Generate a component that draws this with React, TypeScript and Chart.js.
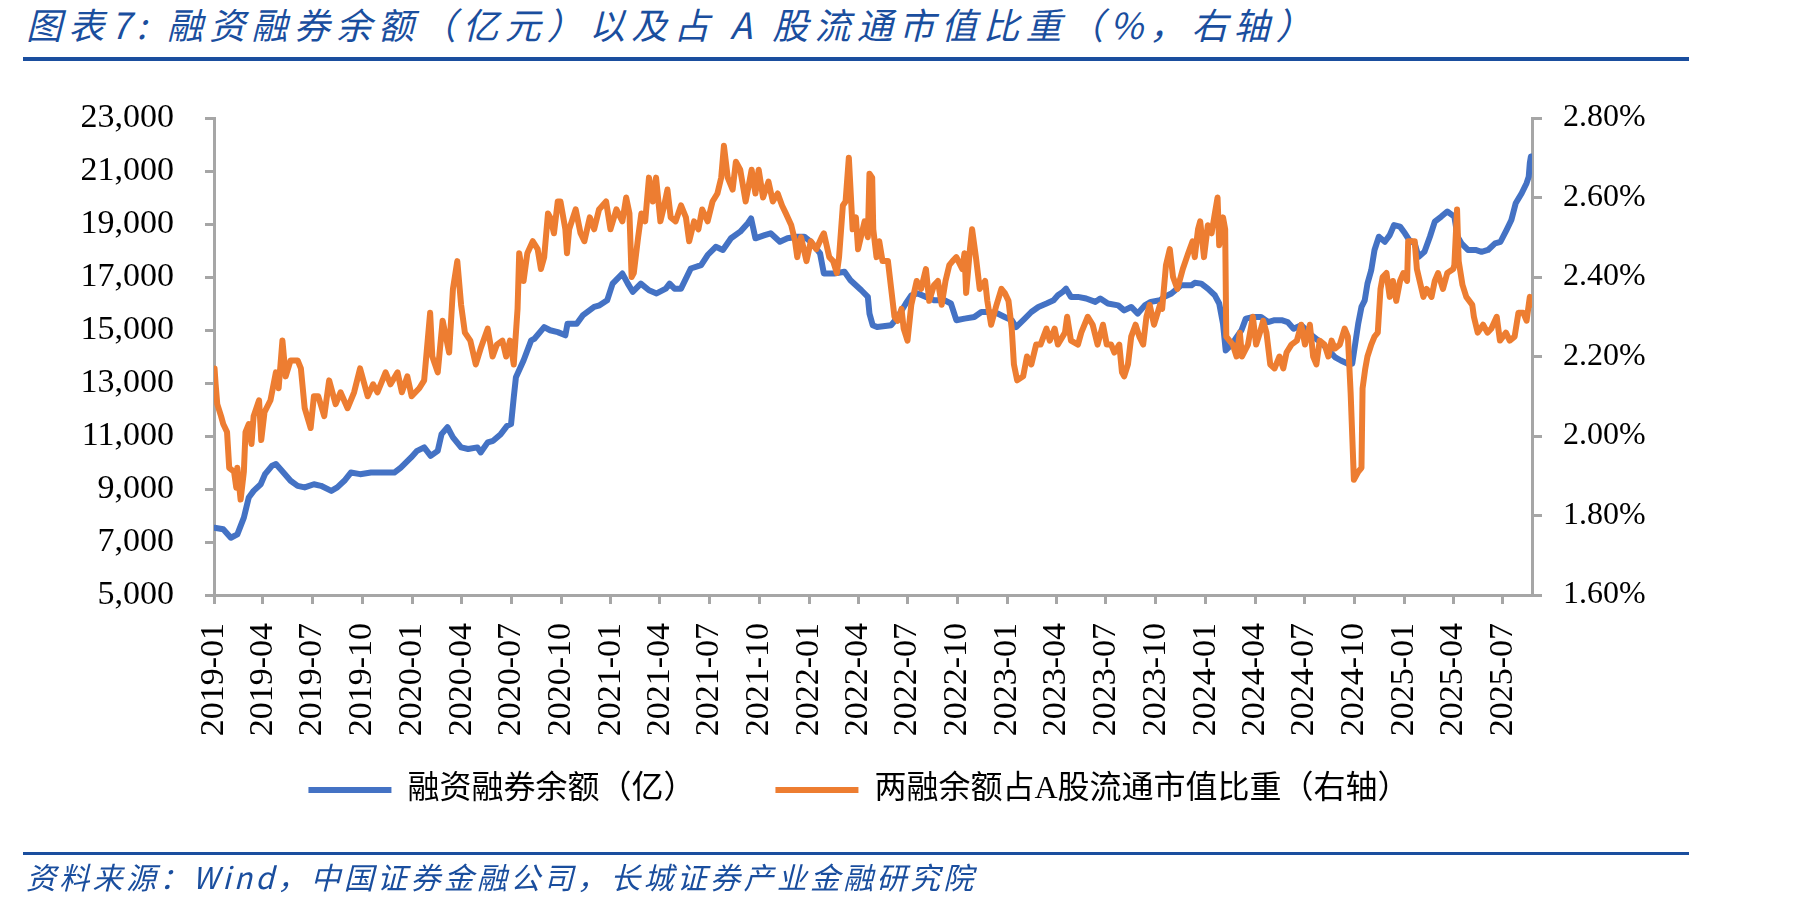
import React, { useEffect, useRef } from "react";
import { Chart, registerables } from "chart.js";

Chart.register(...registerables);

// ---------- data ----------
const quarterLabels = [
  "2019-01", "2019-04", "2019-07", "2019-10",
  "2020-01", "2020-04", "2020-07", "2020-10",
  "2021-01", "2021-04", "2021-07", "2021-10",
  "2022-01", "2022-04", "2022-07", "2022-10",
  "2023-01", "2023-04", "2023-07", "2023-10",
  "2024-01", "2024-04", "2024-07", "2024-10",
  "2025-01", "2025-04", "2025-07",
];
const leftTicks = [5000, 7000, 9000, 11000, 13000, 15000, 17000, 19000, 21000, 23000];
const rightTicks = [1.6, 1.8, 2.0, 2.2, 2.4, 2.6, 2.8];
const axisStart = "2019-01-01";
const axisEnd = "2025-08-24";

// 融资融券余额（亿元）
const balanceDates = [
  "2019-01-02", "2019-01-18", "2019-02-01", "2019-02-13", "2019-02-25", "2019-03-06", "2019-03-15", "2019-03-28",
  "2019-04-05", "2019-04-18", "2019-04-25", "2019-05-06", "2019-05-22", "2019-06-04", "2019-06-17", "2019-07-04",
  "2019-07-17", "2019-08-05", "2019-08-16", "2019-08-29", "2019-09-10", "2019-09-27", "2019-10-17", "2019-11-29",
  "2019-12-11", "2019-12-30", "2020-01-10", "2020-01-23", "2020-02-04", "2020-02-17", "2020-02-24", "2020-03-06",
  "2020-03-16", "2020-03-31", "2020-04-13", "2020-04-30", "2020-05-06", "2020-05-19", "2020-05-29", "2020-06-12",
  "2020-06-24", "2020-07-01", "2020-07-06", "2020-07-10", "2020-07-24", "2020-08-07", "2020-08-13", "2020-08-31",
  "2020-09-11", "2020-09-25", "2020-10-09", "2020-10-13", "2020-10-30", "2020-11-10", "2020-12-01", "2020-12-11",
  "2020-12-25", "2021-01-04", "2021-01-22", "2021-02-01", "2021-02-10", "2021-02-25", "2021-03-12", "2021-03-26",
  "2021-04-12", "2021-04-19", "2021-04-28", "2021-05-10", "2021-05-28", "2021-06-16", "2021-06-28", "2021-07-13",
  "2021-07-26", "2021-08-10", "2021-08-27", "2021-09-10", "2021-09-16", "2021-09-24", "2021-10-11", "2021-10-22",
  "2021-11-08", "2021-11-22", "2021-12-10", "2021-12-23", "2022-01-04", "2022-01-21", "2022-01-28", "2022-02-16",
  "2022-03-07", "2022-03-18", "2022-04-07", "2022-04-19", "2022-04-22", "2022-04-28", "2022-05-06", "2022-06-01",
  "2022-06-13", "2022-06-28", "2022-07-08", "2022-07-20", "2022-08-04", "2022-08-19", "2022-09-07", "2022-09-19",
  "2022-09-29", "2022-10-14", "2022-11-01", "2022-11-14", "2022-11-25", "2022-12-14", "2022-12-27", "2023-01-09",
  "2023-01-17", "2023-02-02", "2023-02-14", "2023-02-27", "2023-03-14", "2023-03-27", "2023-04-04", "2023-04-13",
  "2023-04-19", "2023-04-28", "2023-05-11", "2023-05-26", "2023-06-12", "2023-06-21", "2023-07-05", "2023-07-24",
  "2023-08-04", "2023-08-17", "2023-08-29", "2023-09-11", "2023-09-22", "2023-10-09", "2023-10-17", "2023-10-30",
  "2023-11-17", "2023-12-06", "2023-12-12", "2023-12-24", "2024-01-05", "2024-01-18", "2024-01-26", "2024-02-02",
  "2024-02-07", "2024-02-19", "2024-02-27", "2024-03-07", "2024-03-15", "2024-03-29", "2024-04-12", "2024-04-25",
  "2024-05-07", "2024-05-20", "2024-05-31", "2024-06-11", "2024-06-25", "2024-07-11", "2024-07-26", "2024-08-09",
  "2024-08-26", "2024-09-06", "2024-09-19", "2024-09-27", "2024-10-08", "2024-10-14", "2024-10-20", "2024-10-25",
  "2024-11-01", "2024-11-07", "2024-11-15", "2024-11-26", "2024-12-05", "2024-12-13", "2024-12-24", "2025-01-02",
  "2025-01-10", "2025-01-20", "2025-01-27", "2025-02-07", "2025-02-17", "2025-02-26", "2025-03-10", "2025-03-21",
  "2025-04-03", "2025-04-09", "2025-04-16", "2025-04-28", "2025-05-12", "2025-05-23", "2025-06-04", "2025-06-17",
  "2025-06-27", "2025-07-08", "2025-07-17", "2025-07-25", "2025-08-05", "2025-08-14", "2025-08-18", "2025-08-20",
  "2025-08-22",
];
const balanceValues = [
  7540, 7480, 7160, 7290, 7920, 8680, 8930, 9180,
  9560, 9880, 9940, 9690, 9310, 9120, 9060, 9180,
  9120, 8930, 9060, 9310, 9620, 9560, 9620, 9620,
  9810, 10190, 10440, 10570, 10250, 10440, 11070, 11330,
  10950, 10570, 10510, 10570, 10380, 10760, 10820, 11070,
  11390, 11450, 12460, 13220, 13850, 14610, 14670, 15110,
  14990, 14920, 14800, 15240, 15240, 15550, 15870, 15930,
  16120, 16750, 17130, 16750, 16440, 16750, 16500, 16380,
  16560, 16750, 16560, 16560, 17320, 17450, 17830, 18140,
  18020, 18460, 18710, 19030, 19210, 18460, 18580, 18650,
  18330, 18460, 18520, 18520, 18330, 17890, 17130, 17130,
  17200, 16880, 16500, 16250, 15620, 15180, 15110, 15180,
  15490, 16000, 16310, 16380, 16250, 16120, 16120, 16000,
  15370, 15430, 15490, 15680, 15680, 15620, 15490, 15370,
  15110, 15430, 15680, 15870, 16000, 16120, 16310, 16440,
  16560, 16250, 16250, 16190, 16060, 16190, 16000, 15930,
  15740, 15870, 15620, 15930, 16060, 16120, 16250, 16380,
  16690, 16690, 16780, 16750, 16560, 16310, 16000, 15240,
  14230, 14480, 14730, 14990, 15430, 15490, 15490, 15300,
  15370, 15370, 15300, 15050, 15180, 14860, 14610, 14360,
  13980, 13850, 13730, 13730, 15240, 15870, 16120, 16750,
  17260, 18020, 18520, 18330, 18580, 18960, 18900, 18650,
  18390, 18270, 17760, 17950, 18520, 19090, 19280, 19470,
  19280, 18520, 18270, 18020, 18020, 17950, 18020, 18270,
  18330, 18770, 19150, 19780, 20160, 20540, 20790, 21300,
  21550,
];

// 两融余额占A股流通市值比重（%）
const ratioDates = [
  "2019-01-02", "2019-01-04", "2019-01-07", "2019-01-14", "2019-01-18", "2019-01-25", "2019-01-29", "2019-02-07",
  "2019-02-11", "2019-02-13", "2019-02-19", "2019-02-25", "2019-02-28", "2019-03-06", "2019-03-11", "2019-03-15",
  "2019-03-25", "2019-03-29", "2019-04-04", "2019-04-15", "2019-04-25", "2019-04-30", "2019-05-07", "2019-05-13",
  "2019-05-22", "2019-06-04", "2019-06-10", "2019-06-17", "2019-06-28", "2019-07-04", "2019-07-12", "2019-07-23",
  "2019-08-01", "2019-08-13", "2019-08-22", "2019-09-04", "2019-09-16", "2019-09-27", "2019-10-11", "2019-10-21",
  "2019-10-29", "2019-11-13", "2019-11-22", "2019-12-05", "2019-12-13", "2019-12-23", "2019-12-31", "2020-01-14",
  "2020-01-23", "2020-02-03", "2020-02-07", "2020-02-17", "2020-02-26", "2020-03-03", "2020-03-09", "2020-03-16",
  "2020-03-24", "2020-03-31", "2020-04-07", "2020-04-17", "2020-04-27", "2020-05-06", "2020-05-19", "2020-05-28",
  "2020-06-05", "2020-06-15", "2020-06-22", "2020-06-29", "2020-07-06", "2020-07-13", "2020-07-16", "2020-07-24",
  "2020-07-31", "2020-08-10", "2020-08-19", "2020-08-25", "2020-08-31", "2020-09-07", "2020-09-11", "2020-09-18",
  "2020-09-25", "2020-09-30", "2020-10-09", "2020-10-12", "2020-10-16", "2020-10-28", "2020-11-06", "2020-11-13",
  "2020-11-23", "2020-12-01", "2020-12-10", "2020-12-23", "2020-12-31", "2021-01-11", "2021-01-22", "2021-01-29",
  "2021-02-04", "2021-02-08", "2021-02-12", "2021-02-20", "2021-02-26", "2021-03-05", "2021-03-12", "2021-03-19",
  "2021-03-25", "2021-04-02", "2021-04-09", "2021-04-15", "2021-04-21", "2021-04-30", "2021-05-10", "2021-05-19",
  "2021-05-25", "2021-06-03", "2021-06-11", "2021-06-18", "2021-06-28", "2021-07-07", "2021-07-16", "2021-07-23",
  "2021-07-28", "2021-08-04", "2021-08-13", "2021-08-19", "2021-08-27", "2021-09-06", "2021-09-13", "2021-09-17",
  "2021-09-24", "2021-09-30", "2021-10-08", "2021-10-18", "2021-10-26", "2021-11-04", "2021-11-12", "2021-11-19",
  "2021-11-29", "2021-12-06", "2021-12-10", "2021-12-17", "2021-12-27", "2022-01-04", "2022-01-14", "2022-01-24",
  "2022-01-28", "2022-02-07", "2022-02-14", "2022-02-21", "2022-02-25", "2022-03-04", "2022-03-09", "2022-03-15",
  "2022-03-22", "2022-03-28", "2022-04-01", "2022-04-13", "2022-04-19", "2022-04-22", "2022-04-27", "2022-04-29",
  "2022-05-05", "2022-05-10", "2022-05-16", "2022-05-26", "2022-06-01", "2022-06-07", "2022-06-13", "2022-06-20",
  "2022-06-24", "2022-07-01", "2022-07-08", "2022-07-18", "2022-07-26", "2022-08-04", "2022-08-10", "2022-08-19",
  "2022-08-26", "2022-09-02", "2022-09-09", "2022-09-16", "2022-09-22", "2022-09-29", "2022-10-10", "2022-10-14",
  "2022-10-17", "2022-10-24", "2022-10-28", "2022-11-04", "2022-11-11", "2022-11-21", "2022-11-25", "2022-12-02",
  "2022-12-12", "2022-12-21", "2022-12-27", "2023-01-03", "2023-01-09", "2023-01-13", "2023-01-19", "2023-01-30",
  "2023-02-06", "2023-02-14", "2023-02-23", "2023-03-03", "2023-03-14", "2023-03-20", "2023-03-29", "2023-04-04",
  "2023-04-17", "2023-04-21", "2023-04-28", "2023-05-11", "2023-05-17", "2023-05-29", "2023-06-07", "2023-06-16",
  "2023-06-26", "2023-07-03", "2023-07-11", "2023-07-17", "2023-07-26", "2023-07-31", "2023-08-04", "2023-08-11",
  "2023-08-17", "2023-08-25", "2023-09-01", "2023-09-08", "2023-09-14", "2023-09-20", "2023-09-28", "2023-10-09",
  "2023-10-13", "2023-10-20", "2023-10-27", "2023-11-02", "2023-11-10", "2023-11-20", "2023-11-30", "2023-12-08",
  "2023-12-12", "2023-12-18", "2023-12-22", "2023-12-29", "2024-01-05", "2024-01-12", "2024-01-18", "2024-01-23",
  "2024-01-26", "2024-02-02", "2024-02-06", "2024-02-08", "2024-02-20", "2024-02-27", "2024-03-04", "2024-03-08",
  "2024-03-19", "2024-03-28", "2024-04-03", "2024-04-10", "2024-04-16", "2024-04-22", "2024-04-29", "2024-05-07",
  "2024-05-16", "2024-05-23", "2024-05-29", "2024-06-07", "2024-06-17", "2024-06-25", "2024-07-02", "2024-07-11",
  "2024-07-17", "2024-07-23", "2024-07-29", "2024-08-07", "2024-08-14", "2024-08-20", "2024-08-26", "2024-09-04",
  "2024-09-13", "2024-09-19", "2024-09-24", "2024-09-27", "2024-09-30", "2024-10-08", "2024-10-14", "2024-10-16",
  "2024-10-21", "2024-10-25", "2024-11-01", "2024-11-07", "2024-11-13", "2024-11-18", "2024-11-22", "2024-11-29",
  "2024-12-05", "2024-12-11", "2024-12-17", "2024-12-24", "2024-12-30", "2025-01-06", "2025-01-08", "2025-01-14",
  "2025-01-20", "2025-01-24", "2025-02-05", "2025-02-11", "2025-02-20", "2025-02-26", "2025-03-04", "2025-03-13",
  "2025-03-21", "2025-04-01", "2025-04-03", "2025-04-08", "2025-04-11", "2025-04-18", "2025-04-25", "2025-05-06",
  "2025-05-09", "2025-05-16", "2025-05-26", "2025-06-03", "2025-06-10", "2025-06-20", "2025-06-26", "2025-07-07",
  "2025-07-14", "2025-07-23", "2025-07-30", "2025-08-08", "2025-08-14", "2025-08-20", "2025-08-22",
];
const ratioValues = [
  2.17, 2.13, 2.08, 2.05, 2.03, 2.01, 1.92, 1.91,
  1.87, 1.92, 1.84, 1.91, 2.01, 2.03, 1.98, 2.05,
  2.09, 1.99, 2.06, 2.09, 2.16, 2.12, 2.24, 2.15,
  2.19, 2.19, 2.17, 2.07, 2.02, 2.10, 2.10, 2.05,
  2.14, 2.08, 2.11, 2.07, 2.11, 2.17, 2.10, 2.13,
  2.11, 2.16, 2.13, 2.16, 2.11, 2.15, 2.10, 2.12,
  2.14, 2.31, 2.20, 2.16, 2.29, 2.25, 2.21, 2.37,
  2.44, 2.33, 2.26, 2.24, 2.18, 2.22, 2.27, 2.20,
  2.23, 2.24, 2.20, 2.24, 2.18, 2.32, 2.46, 2.39,
  2.46, 2.49, 2.47, 2.42, 2.45, 2.56, 2.55, 2.51,
  2.59, 2.59, 2.52, 2.46, 2.52, 2.57, 2.51, 2.49,
  2.55, 2.52, 2.57, 2.59, 2.52, 2.57, 2.54, 2.60,
  2.56, 2.40, 2.41, 2.50, 2.56, 2.54, 2.65, 2.59,
  2.65, 2.54, 2.58, 2.62, 2.55, 2.54, 2.58, 2.55,
  2.49, 2.54, 2.52, 2.57, 2.54, 2.59, 2.61, 2.65,
  2.73, 2.65, 2.62, 2.69, 2.67, 2.59, 2.64, 2.67,
  2.61, 2.67, 2.60, 2.64, 2.59, 2.61, 2.58, 2.56,
  2.53, 2.49, 2.45, 2.50, 2.44, 2.49, 2.47, 2.50,
  2.51, 2.45, 2.44, 2.41, 2.45, 2.58, 2.59, 2.70,
  2.52, 2.55, 2.47, 2.54, 2.50, 2.66, 2.65, 2.52,
  2.45, 2.49, 2.44, 2.44, 2.37, 2.30, 2.29, 2.32,
  2.27, 2.24, 2.33, 2.39, 2.37, 2.42, 2.34, 2.38,
  2.39, 2.33, 2.39, 2.43, 2.44, 2.45, 2.42, 2.46,
  2.36, 2.47, 2.52, 2.45, 2.37, 2.39, 2.34, 2.28,
  2.33, 2.37, 2.36, 2.34, 2.27, 2.18, 2.14, 2.15,
  2.20, 2.18, 2.23, 2.23, 2.27, 2.24, 2.27, 2.23,
  2.26, 2.30, 2.24, 2.23, 2.26, 2.30, 2.28, 2.23,
  2.28, 2.23, 2.23, 2.21, 2.23, 2.16, 2.15, 2.18,
  2.25, 2.28, 2.25, 2.23, 2.30, 2.33, 2.28, 2.33,
  2.32, 2.43, 2.47, 2.40, 2.37, 2.42, 2.46, 2.49,
  2.45, 2.52, 2.54, 2.45, 2.53, 2.51, 2.56, 2.60,
  2.48, 2.55, 2.52, 2.25, 2.23, 2.20, 2.26, 2.20,
  2.23, 2.30, 2.23, 2.26, 2.29, 2.26, 2.18, 2.17,
  2.20, 2.17, 2.21, 2.23, 2.24, 2.28, 2.23, 2.28,
  2.20, 2.18, 2.24, 2.23, 2.20, 2.24, 2.22, 2.23,
  2.27, 2.25, 2.11, 2.00, 1.89, 1.91, 1.92, 2.12,
  2.17, 2.20, 2.23, 2.25, 2.26, 2.37, 2.40, 2.41,
  2.35, 2.39, 2.34, 2.39, 2.41, 2.39, 2.49, 2.49,
  2.49, 2.42, 2.35, 2.37, 2.35, 2.39, 2.41, 2.37,
  2.41, 2.42, 2.43, 2.57, 2.44, 2.38, 2.35, 2.33,
  2.30, 2.26, 2.28, 2.26, 2.27, 2.30, 2.24, 2.26,
  2.24, 2.25, 2.31, 2.31, 2.29, 2.35, 2.33,
];

const titleText = "图表7: 融资融券余额（亿元）以及占 A 股流通市值比重（%，右轴）";
const sourceText = "资料来源：Wind，中国证券金融公司，长城证券产业金融研究院";
const seriesNames = ["融资融券余额（亿）", "两融余额占A股流通市值比重（右轴）"];

// ---------- helpers ----------
const toDay = (s: string): number => {
  const [y, m, d] = s.split("-").map(Number);
  return (Date.UTC(y, m - 1, d || 1) - Date.UTC(2019, 0, 1)) / 86400000;
};

const SERIF = "'Liberation Serif', 'Times New Roman', serif";
const LEGEND_FONT = "'Liberation Serif', 'Noto Sans CJK SC', sans-serif";
const AXIS_COLOR = "#A6A6A6";
const BLUE = "#4472C4";
const ORANGE = "#ED7D31";
const BRAND = "#1A4E9E";

const axisGrid = (len: number) => ({
  display: true,
  drawOnChartArea: false,
  drawTicks: true,
  tickLength: len,
  color: AXIS_COLOR,
  lineWidth: 3,
});

export default function App() {
  const canvasRef = useRef<HTMLCanvasElement | null>(null);

  useEffect(() => {
    const canvas = canvasRef.current;
    if (!canvas) return;

    const chart = new Chart(canvas, {
      type: "line",
      data: {
        datasets: [
          {
            label: seriesNames[0],
            data: balanceDates.map((d, i) => ({ x: toDay(d), y: balanceValues[i] })),
            borderColor: BLUE,
            backgroundColor: BLUE,
            borderWidth: 6,
            pointRadius: 0,
            borderJoinStyle: "round",
            borderCapStyle: "round",
            tension: 0,
            yAxisID: "y",
            order: 1,
          },
          {
            label: seriesNames[1],
            data: ratioDates.map((d, i) => ({ x: toDay(d), y: ratioValues[i] })),
            borderColor: ORANGE,
            backgroundColor: ORANGE,
            borderWidth: 6,
            pointRadius: 0,
            borderJoinStyle: "round",
            borderCapStyle: "round",
            tension: 0,
            yAxisID: "y1",
            order: 0,
          },
        ],
      },
      options: {
        responsive: false,
        maintainAspectRatio: false,
        animation: false,
        layout: { padding: { top: 118, left: 0, right: 90, bottom: 93 } },
        plugins: {
          tooltip: { enabled: false },
          title: { display: false },
          legend: {
            position: "bottom",
            labels: {
              usePointStyle: true,
              pointStyle: "line",
              pointStyleWidth: 83,
              padding: 80,
              color: "#000",
              font: { family: LEGEND_FONT, size: 32 },
              sort: (a: any, b: any) => a.datasetIndex - b.datasetIndex,
            },
          },
        },
        scales: {
          x: {
            type: "linear",
            min: toDay(axisStart),
            max: toDay(axisEnd),
            afterBuildTicks: (scale: any) => {
              scale.ticks = quarterLabels.map((l) => ({ value: toDay(l + "-01") }));
            },
            afterFit: (scale: any) => {
              scale.height = 99;
              scale.paddingLeft = 0;
              scale.paddingRight = 0;
              // let the rotated labels run past the axis box (no clipping)
              scale._computeLabelArea = () => undefined;
            },
            ticks: {
              autoSkip: false,
              minRotation: 90,
              maxRotation: 90,
              padding: 19,
              color: "#000",
              font: { family: SERIF, size: 34 },
              callback: (_v: any, i: number) => quarterLabels[i],
            },
            grid: axisGrid(9),
            border: { display: true, color: AXIS_COLOR, width: 3 },
          },
          y: {
            position: "left",
            min: 5000,
            max: 23000,
            afterBuildTicks: (scale: any) => {
              scale.ticks = leftTicks.map((v) => ({ value: v }));
            },
            afterFit: (scale: any) => {
              scale.width = 214;
              scale.paddingTop = 0;
              scale.paddingBottom = 0;
            },
            ticks: {
              padding: 31,
              color: "#000",
              font: { family: SERIF, size: 34 },
              callback: (v: any) => Number(v).toLocaleString("en-US"),
            },
            grid: axisGrid(9),
            border: { display: true, color: AXIS_COLOR, width: 3 },
          },
          y1: {
            position: "right",
            min: 1.6,
            max: 2.8,
            afterBuildTicks: (scale: any) => {
              scale.ticks = rightTicks.map((v) => ({ value: v }));
            },
            afterFit: (scale: any) => {
              scale.width = 186;
              scale.paddingTop = 0;
              scale.paddingBottom = 0;
            },
            ticks: {
              padding: 21,
              color: "#000",
              font: { family: SERIF, size: 32 },
              callback: (v: any) => Number(v).toFixed(2) + "%",
            },
            grid: axisGrid(10),
            border: { display: true, color: AXIS_COLOR, width: 3 },
          },
        },
      },
    } as any);

    return () => chart.destroy();
  }, []);

  return (
    <div style={{ position: "absolute", left: 0, top: 0, width: 1808, height: 909, background: "#fff", overflow: "hidden" }}>
      <div
        style={{
          position: "absolute",
          left: 26,
          top: 2,
          fontFamily: "'Noto Sans CJK SC', 'Liberation Sans', sans-serif",
          fontStyle: "italic",
          fontSize: 36,
          lineHeight: "42px",
          letterSpacing: 6.2,
          color: BRAND,
          whiteSpace: "nowrap",
        }}
      >
        {titleText}
      </div>
      <div style={{ position: "absolute", left: 23, top: 57, width: 1666, height: 4, background: BRAND }} />
      <canvas
        ref={canvasRef}
        width={1808}
        height={909}
        style={{ position: "absolute", left: 0, top: 0, width: 1808, height: 909 }}
      />
      <div style={{ position: "absolute", left: 23, top: 852, width: 1666, height: 3, background: BRAND }} />
      <div
        style={{
          position: "absolute",
          left: 26,
          top: 858,
          fontFamily: "'Noto Sans CJK SC', 'Liberation Sans', sans-serif",
          fontStyle: "italic",
          fontSize: 30,
          lineHeight: "36px",
          letterSpacing: 3.3,
          color: BRAND,
          whiteSpace: "nowrap",
        }}
      >
        {sourceText}
      </div>
    </div>
  );
}
